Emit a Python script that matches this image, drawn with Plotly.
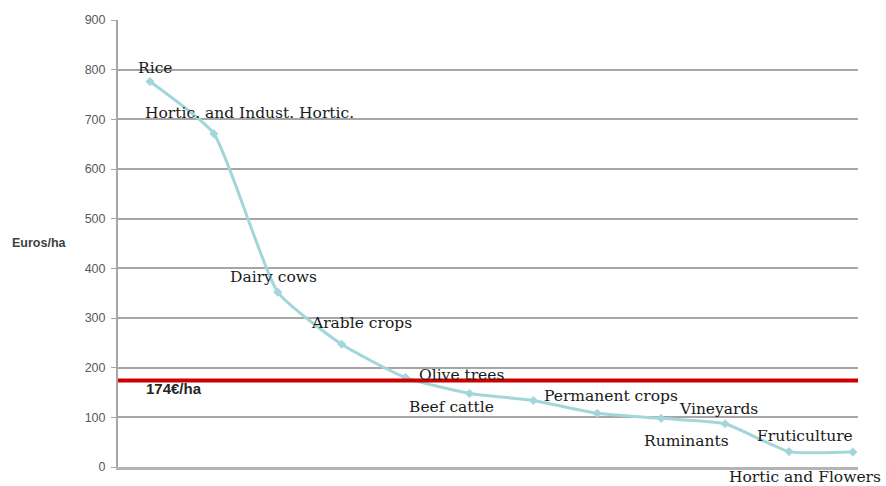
import plotly.graph_objects as go

# Direct payment per hectare by farm type (Euros/ha), sorted from highest to lowest
farm_types = ["Rice", "Hortic. and Indust. Hortic.", "Dairy cows", "Arable crops",
              "Olive trees", "Beef cattle", "Permanent crops", "",
              "Ruminants", "Vineyards", "Fruticulture", "Hortic and Flowers"]
euros_per_ha = [776, 671, 352, 247, 180, 148, 134, 108, 98, 87, 31, 30]
average_value = 174
average_label = "174€/ha"
y_ticks = [0, 100, 200, 300, 400, 500, 600, 700, 800, 900]

# Label offsets (pixels) relative to each point
label_offsets = {
    "Rice": (5, 14),
    "Hortic. and Indust. Hortic.": (36, 21),
    "Dairy cows": (-4, 15),
    "Arable crops": (20, 21),
    "Olive trees": (56, 3),
    "Beef cattle": (-18, -14),
    "Permanent crops": (78, 4),
    "Ruminants": (25, -23),
    "Vineyards": (-7, 15),
    "Fruticulture": (16, 16),
    "Hortic and Flowers": (-48, -25),
}

x_idx = list(range(len(farm_types)))
line_color = "#a3d6da"
grid_color = "#a6a6a6"

# plot area margins in pixels
W, H = 886, 486
ML, MR, MT, MB = 118, 28, 20, 16
plot_w = W - ML - MR
plot_h = H - MT - MB

fig = go.Figure()

fig.add_trace(go.Scatter(
    x=x_idx, y=euros_per_ha,
    mode="lines+markers",
    line=dict(color=line_color, width=3, shape="spline", smoothing=0.5),
    marker=dict(symbol="diamond", size=7, color=line_color),
    hoverinfo="skip",
    showlegend=False,
))

# Average reference line
fig.add_shape(type="line", xref="paper", yref="y",
              x0=0, x1=1, y0=average_value, y1=average_value,
              line=dict(color="#cc0000", width=4), layer="above")

annotations = []
for i, (name, val) in enumerate(zip(farm_types, euros_per_ha)):
    if not name:
        continue
    dx, dy = label_offsets[name]
    annotations.append(dict(
        x=i, y=val, xref="x", yref="y", text=name, showarrow=False,
        xshift=dx, yshift=dy, xanchor="center", yanchor="middle",
        font=dict(family="DejaVu Serif", size=15.5, color="#1a1a1a"),
    ))

annotations.append(dict(
    x=-0.5, y=average_value, xref="x", yref="y",
    text="<b>" + average_label + "</b>",
    showarrow=False, xanchor="left", yanchor="middle", xshift=26, yshift=-8,
    font=dict(family="Liberation Sans", size=15, color="#262626"),
))

annotations.append(dict(
    x=(39 - ML) / plot_w, y=(H - MB - 244) / plot_h,
    xref="paper", yref="paper", text="<b>Euros/ha</b>",
    showarrow=False, xanchor="center", yanchor="middle",
    font=dict(family="Liberation Sans", size=12.5, color="#404040"),
))

fig.update_layout(
    width=W, height=H,
    margin=dict(l=ML, r=MR, t=MT, b=MB),
    paper_bgcolor="white", plot_bgcolor="white",
    annotations=annotations,
)

fig.update_xaxes(
    range=[-0.5, 11.08], showticklabels=False, showgrid=False, zeroline=False,
    showline=True, linecolor="#b4b4b4", linewidth=3, ticks="",
)
fig.update_yaxes(
    range=[0, 900], tickvals=y_ticks, showgrid=True, gridcolor=grid_color,
    gridwidth=1.5, zeroline=False, showline=True, linecolor=grid_color,
    linewidth=2, ticks="outside", ticklen=5, tickcolor=grid_color,
    ticklabelstandoff=3,
    tickfont=dict(family="Liberation Sans", size=12.5, color="#595959"),
)

fig.write_html("out.html")
